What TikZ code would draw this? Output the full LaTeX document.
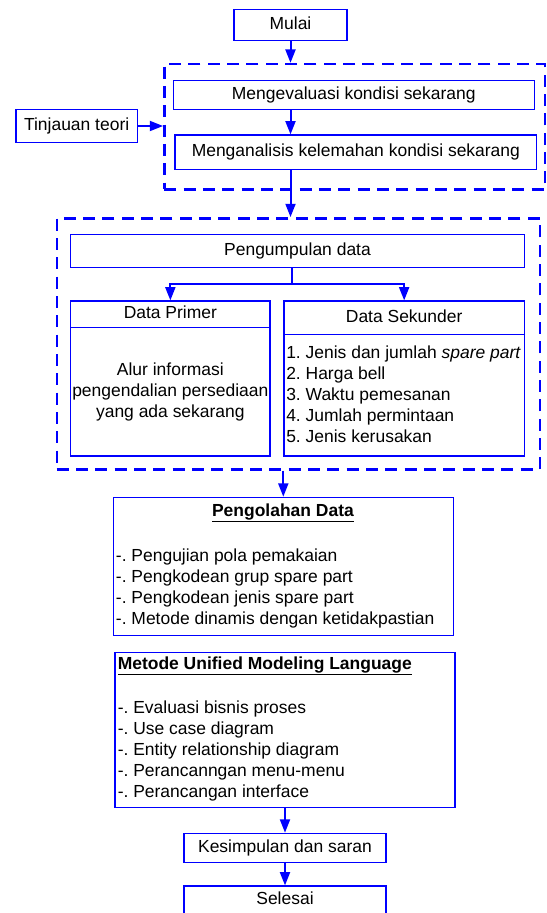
\documentclass[tikz,border=0pt]{standalone}
\usepackage{fontspec}
\setmainfont{Liberation Sans}
\usetikzlibrary{arrows.meta}
\frenchspacing
\begin{document}
\begin{tikzpicture}[x=0.75pt,y=-0.75pt,
  font=\fontsize{13.1}{15.75}\selectfont\frenchspacing,
  box/.style={draw=blue, line width=0.9pt, inner sep=0pt, text height=9.4pt, text depth=2.7pt, align=center},
  wh/.style 2 args={minimum width=#1*0.75pt, minimum height=#2*0.75pt},
  grp/.style={draw=blue, line width=1.8pt, dash pattern=on 9pt off 5.5pt, inner sep=0pt},
  txt/.style={inner sep=0pt},
  conn/.style={draw=blue, line width=1.5pt, -{Triangle[length=10pt,width=7.5pt]}},
  plain/.style={draw=blue, line width=1.5pt}]
\useasboundingbox (0,0) rectangle (546,913);
\clip (0,0) rectangle (546,913);
\fill[white] (0,0) rectangle (546,913);

% top part
\node[box, wh={113}{31}] (mulai) at (290.5,24.7) {Mulai};
\node[grp, wh={380.7}{125.3}] (grp1) at (354.65,126.65) {};
\node[box, wh={361}{29}] (eval) at (353.8,94.8) {Mengevaluasi kondisi sekarang};
\node[box, wh={361.7}{34.3}] (anal) at (355.85,152.15) {Menganalisis kelemahan kondisi sekarang};
\node[box, wh={121.3}{33.4}] (tinj) at (76.65,126) {Tinjauan teori};

% data collection
\node[grp, wh={483.3}{251}] (grp2) at (298.35,343.8) {};
\node[box, wh={453.6}{33.4}] (peng) at (297.5,251) {Pengumpulan data};
\node[box, wh={199.3}{26.7}] (primhead) at (170.35,314.35) {Data Primer};
\node[box, wh={199.3}{128.3}] (primbody) at (170.35,391.85) {};
\node[txt, align=center] (primtxt) at (170.35,391.5) {Alur informasi\\pengendalian persediaan\\yang ada sekarang};
\node[box, wh={240.3}{33.3}] (sekhead) at (404.15,317.65) {Data Sekunder};
\node[box, wh={240.3}{121.7}] (sekbody) at (404.15,395.15) {};
\node[txt, align=left, anchor=west] (sektxt) at (286,394.7) {1. Jenis dan jumlah \textit{spare part}\\2. Harga bell\\3. Waktu pemesanan\\4. Jumlah permintaan\\5. Jenis kerusakan};

% processing
\node[box, wh={340}{138.4}] (olah) at (283.3,566.5) {};
\node[txt] (olahtitle) at (283,513) {\underline{\textbf{Pengolahan Data}}};
\node[txt, align=left, anchor=west] (olahtxt) at (115.7,588) {-. Pengujian pola pemakaian\\-. Pengkodean grup spare part\\-. Pengkodean jenis spare part\\-. Metode dinamis dengan ketidakpastian};

\node[box, wh={340}{155.2}] (uml) at (285,730.1) {};
\node[txt, anchor=west] (umltitle) at (117.5,666) {\underline{\textbf{Metode Unified Modeling Language}}};
\node[txt, align=left, anchor=west] (umltxt) at (117.5,751.3) {-. Evaluasi bisnis proses\\-. Use case diagram\\-. Entity relationship diagram\\-. Perancanngan menu-menu\\-. Perancangan interface};

\node[box, wh={202}{29}] (kes) at (285,847.8) {Kesimpulan dan saran};
\node[box, wh={202}{28}] (sel) at (285,900) {Selesai};

% connectors
\draw[conn] (mulai.south) -- (mulai.south |- grp1.north);
\draw[conn] (tinj.east) -- (grp1.west |- tinj.east);
\draw[conn] (eval.south -| mulai.south) -- (anal.north -| mulai.south);
\draw[conn] (anal.south -| mulai.south) -- (grp2.north -| mulai.south);
\coordinate (split) at (291.7,284.3);
\draw[plain] (peng.south -| split) -- (split);
\draw[conn] (split) -| (primhead.north);
\draw[conn] (split) -| (sekhead.north);
\draw[conn] (grp2.south -| olah.north) -- (olah.north);
\draw[conn] (uml.south) -- (kes.north);
\draw[conn] (kes.south) -- (sel.north);
\end{tikzpicture}
\end{document}
